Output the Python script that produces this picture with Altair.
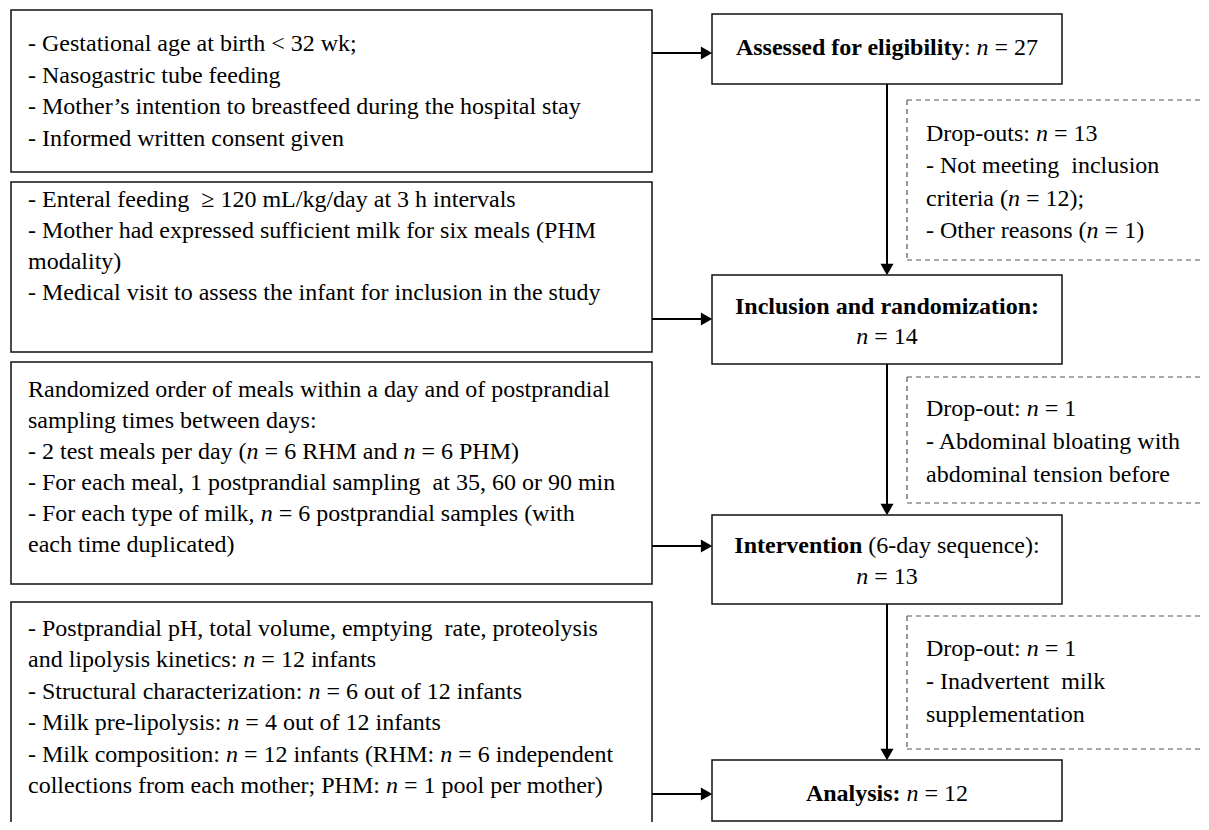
import altair as alt
import pandas as pd

FONT = "Liberation Serif"
FS = 24

# ---------------- content (text of each box) ----------------
# '#' toggles bold, '*' toggles italic
ELIGIBILITY = [
    "- Gestational age at birth < 32 wk;",
    "- Nasogastric tube feeding",
    "- Mother’s intention to breastfeed during the hospital stay",
    "- Informed written consent given",
]
REQUIREMENTS = [
    "- Enteral feeding  ≥ 120 mL/kg/day at 3 h intervals",
    "- Mother had expressed sufficient milk for six meals (PHM",
    "modality)",
    "- Medical visit to assess the infant for inclusion in the study",
]
PROTOCOL = [
    "Randomized order of meals within a day and of postprandial",
    "sampling times between days:",
    "- 2 test meals per day (*n* = 6 RHM and *n* = 6 PHM)",
    "- For each meal, 1 postprandial sampling  at 35, 60 or 90 min",
    "- For each type of milk, *n* = 6 postprandial samples (with",
    "each time duplicated)",
]
MEASURES = [
    "- Postprandial pH, total volume, emptying  rate, proteolysis",
    "and lipolysis kinetics: *n* = 12 infants",
    "- Structural characterization: *n* = 6 out of 12 infants",
    "- Milk pre-lipolysis: *n* = 4 out of 12 infants",
    "- Milk composition: *n* = 12 infants (RHM: *n* = 6 independent",
    "collections from each mother; PHM: *n* = 1 pool per mother)",
]
ASSESSED = ["#Assessed for eligibility#: *n* = 27"]
INCLUSION = ["#Inclusion and randomization:#", "*n* = 14"]
INTERVENTION = ["#Intervention# (6-day sequence):", "*n* = 13"]
ANALYSIS = ["#Analysis:# *n* = 12"]
DROP1 = ["Drop-outs: *n* = 13", "- Not meeting  inclusion", "criteria (*n* = 12);", "- Other reasons (*n* = 1)"]
DROP2 = ["Drop-out: *n* = 1", "- Abdominal bloating with", "abdominal tension before"]
DROP3 = ["Drop-out: *n* = 1", "- Inadvertent  milk", "supplementation"]

# ---------------- layout (page pixel coordinates) ----------------
M = 8
W, H = 1193, 814
LEFT_X = (11, 652)
RIGHT_X = (712, 1062)
RIGHT_CX = 887
DASH_X = 907
DASH_END = M + W
LEFT_TEXT_X = 28
DASH_TEXT_X = 926

left_boxes = [
    (ELIGIBILITY, 10, 172, 44, 31.5),
    (REQUIREMENTS, 182, 352, 200, 31),
    (PROTOCOL, 362, 584, 390, 31),
    (MEASURES, 602, 850, 629, 31.4),
]
right_boxes = [
    (ASSESSED, 14, 84, 48, 30),
    (INCLUSION, 275, 364, 307, 30),
    (INTERVENTION, 515, 604, 546, 31),
    (ANALYSIS, 760, 821, 794, 30),
]
dashed_boxes = [
    (DROP1, 100, 260, 134, 32.4),
    (DROP2, 377, 503, 409, 33),
    (DROP3, 616, 749, 649, 33),
]
H_ARROW_Y = [53, 319, 546, 794]

# ---------------- font metrics (Times) ----------------
REG = {" ": 250, "!": 333, "'": 180, "(": 333, ")": 333, "+": 564, ",": 250, "-": 333,
       ".": 250, "/": 278, ":": 278, ";": 278, "<": 564, "=": 564, ">": 564, "?": 444,
       "’": 333, "≥": 549, "\u00a0": 250}
for d in "0123456789":
    REG[d] = 500
REG.update(dict(zip("ABCDEFGHIJKLMNOPQRSTUVWXYZ",
    [722, 667, 667, 722, 611, 556, 722, 722, 333, 389, 722, 611, 889, 722, 722, 556, 722, 667, 556, 611, 722, 722, 944, 722, 722, 611])))
REG.update(dict(zip("abcdefghijklmnopqrstuvwxyz",
    [444, 500, 444, 500, 444, 333, 500, 500, 278, 278, 500, 278, 778, 500, 500, 500, 500, 333, 389, 278, 500, 500, 722, 500, 500, 444])))
BOLD = {" ": 250, "(": 333, ")": 333, "-": 333, ":": 333, "=": 570}
for d in "0123456789":
    BOLD[d] = 500
BOLD.update(dict(zip("ABCDEFGHIJKLMNOPQRSTUVWXYZ",
    [722, 667, 722, 722, 667, 611, 778, 778, 389, 500, 778, 667, 944, 722, 778, 611, 778, 722, 556, 667, 722, 722, 1000, 722, 722, 667])))
BOLD.update(dict(zip("abcdefghijklmnopqrstuvwxyz",
    [500, 556, 444, 556, 444, 333, 500, 556, 278, 333, 556, 278, 833, 556, 500, 556, 556, 444, 389, 333, 556, 500, 722, 500, 500, 444])))
ITAL = {" ": 250, "n": 500}


def parse(line):
    segs, bold, ital, buf = [], False, False, ""
    for ch in line:
        if ch in "#*":
            if buf:
                segs.append((buf, "b" if bold else ("i" if ital else "r")))
            buf = ""
            if ch == "#":
                bold = not bold
            else:
                ital = not ital
        else:
            buf += ch
    if buf:
        segs.append((buf, "b" if bold else ("i" if ital else "r")))
    return segs


def width(text, style):
    table = BOLD if style == "b" else (ITAL if style == "i" else REG)
    return sum(table.get(c, 500) for c in text) / 1000.0 * FS


def place(line, x, y, align):
    segs = parse(line.replace("  ", " \u00a0"))
    total = sum(width(t, s) for t, s in segs)
    cur = x if align == "left" else x - total / 2.0
    rows = []
    for t, s in segs:
        lead = len(t) - len(t.lstrip(" "))
        core = t.strip(" ")
        if core:
            rows.append(dict(x=cur + width(t[:lead], s), y=y, t=core, s=s))
        cur += width(t, s)
    return rows


text_rows, rects, rules, dashes, heads = [], [], [], [], []

for lines, y0, y1, first, step in left_boxes:
    rects.append(dict(x=LEFT_X[0], x2=LEFT_X[1], y=y0, y2=y1))
    for i, ln in enumerate(lines):
        text_rows += place(ln, LEFT_TEXT_X, first + i * step, "left")

for lines, y0, y1, first, step in right_boxes:
    rects.append(dict(x=RIGHT_X[0], x2=RIGHT_X[1], y=y0, y2=y1))
    for i, ln in enumerate(lines):
        text_rows += place(ln, RIGHT_CX, first + i * step, "center")

for lines, y0, y1, first, step in dashed_boxes:
    dashes += [dict(x=DASH_X, x2=DASH_END, y=y0, y2=y0),
               dict(x=DASH_X, x2=DASH_END, y=y1, y2=y1),
               dict(x=DASH_X, x2=DASH_X, y=y0, y2=y1)]
    for i, ln in enumerate(lines):
        text_rows += place(ln, DASH_TEXT_X, first + i * step, "left")

HEAD = 5.5
for yy in H_ARROW_Y:
    rules.append(dict(x=LEFT_X[1], x2=RIGHT_X[0] - 6, y=yy, y2=yy))
    heads.append(dict(x=RIGHT_X[0] - HEAD, y=yy, shape="triangle-right"))
for (_, _, b, _, _), (_, t, _, _, _) in zip(right_boxes[:-1], right_boxes[1:]):
    rules.append(dict(x=RIGHT_CX, x2=RIGHT_CX, y=b, y2=t - 6))
    heads.append(dict(x=RIGHT_CX, y=t - HEAD, shape="triangle-down"))

XS = alt.Scale(domain=[M, M + W], nice=False, zero=False)
YS = alt.Scale(domain=[M, M + H], reverse=True, nice=False, zero=False)
X = alt.X("x:Q", scale=XS, axis=None)
Y = alt.Y("y:Q", scale=YS, axis=None)

box_layer = alt.Chart(pd.DataFrame(rects)).mark_rect(
    fill="white", stroke="#111111", strokeWidth=1.5, clip=True
).encode(x=X, x2="x2:Q", y=Y, y2="y2:Q")

dash_layer = alt.Chart(pd.DataFrame(dashes)).mark_rule(
    stroke="#555555", strokeWidth=1.2, strokeDash=[5, 4]
).encode(x=X, x2="x2:Q", y=Y, y2="y2:Q")

rule_layer = alt.Chart(pd.DataFrame(rules)).mark_rule(
    stroke="#000000", strokeWidth=2
).encode(x=X, x2="x2:Q", y=Y, y2="y2:Q")

hd = pd.DataFrame(heads)
head_r = alt.Chart(hd[hd["shape"] == "triangle-right"]).mark_point(
    shape="triangle-right", filled=True, size=170, color="#000000", opacity=1
).encode(x=X, y=Y)
head_d = alt.Chart(hd[hd["shape"] == "triangle-down"]).mark_point(
    shape="triangle-down", filled=True, size=170, color="#000000", opacity=1
).encode(x=X, y=Y)

td = pd.DataFrame(text_rows)


def text_layer(style, **kw):
    return alt.Chart(td[td["s"] == style]).mark_text(
        align="left", baseline="middle", font=FONT, fontSize=FS, color="#000000", **kw
    ).encode(x=X, y=Y, text="t:N")


chart = alt.layer(
    box_layer, dash_layer, rule_layer, head_r, head_d,
    text_layer("r"), text_layer("b", fontWeight="bold"), text_layer("i", fontStyle="italic"),
).properties(
    width=W, height=H, padding=0, autosize=alt.AutoSizeParams(type="none"),
    background="white",
).configure_view(strokeWidth=0)

chart.save("out.html", embed_options={"renderer": "svg", "actions": False})
